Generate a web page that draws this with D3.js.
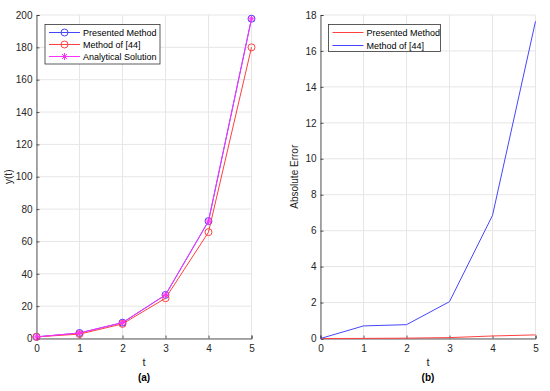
<!DOCTYPE html>
<html>
<head>
<meta charset="utf-8">
<script src="https://cdn.jsdelivr.net/npm/d3@7"></script>
<style>
  body { margin: 0; background: #fff; }
  svg { font-family: "Liberation Sans", Arial, sans-serif; }
</style>
</head>
<body>
<div id="chart"></div>
<script>
// data
const tValues = [0, 1, 2, 3, 4, 5];
const presented = [1, 3.42, 9.8, 26.95, 72.6, 197.7];
const method44 = [1, 2.72, 9.03, 24.9, 65.75, 180.0];
const analytical = [1, 3.42, 9.8, 26.95, 72.6, 197.7];
const errPresented = [0, 0.005, 0.02, 0.05, 0.14, 0.2];
const errMethod44 = [0, 0.7, 0.77, 2.05, 6.85, 17.65];
const yTicksA = [0, 20, 40, 60, 80, 100, 120, 140, 160, 180, 200];
const yTicksB = [0, 2, 4, 6, 8, 10, 12, 14, 16, 18];

const W = 550, H = 391;
const svg = d3.select("#chart").append("svg")
  .attr("width", W).attr("height", H);

const blue = "#4646ff", red = "#ff4040", magenta = "#ff30ff";

function panel(opts) {
  const x = d3.scaleLinear().domain([0, 5]).range(opts.xr);
  const y = d3.scaleLinear().domain(opts.yd).range([338.5, 15]);
  const g = svg.append("g");

  // grid
  g.selectAll(".gx").data(tValues).enter().append("line")
    .attr("x1", d => x(d)).attr("x2", d => x(d))
    .attr("y1", y.range()[0]).attr("y2", y.range()[1])
    .attr("stroke", "#e6e6e6").attr("stroke-width", 1);
  g.selectAll(".gy").data(opts.yticks).enter().append("line")
    .attr("x1", opts.xr[0]).attr("x2", opts.xr[1])
    .attr("y1", d => y(d)).attr("y2", d => y(d))
    .attr("stroke", "#e6e6e6").attr("stroke-width", 1);

  // axes
  const ax = g.append("g").attr("transform", `translate(0,${y.range()[0]})`)
    .call(d3.axisBottom(x).tickValues(tValues).tickSize(-3).tickPadding(6).tickFormat(d3.format("d")));
  const ay = g.append("g").attr("transform", `translate(${opts.xr[0]},0)`)
    .call(d3.axisLeft(y).tickValues(opts.yticks).tickSize(-3).tickPadding(4).tickFormat(d3.format("d")));
  [ax, ay].forEach(a => {
    a.select(".domain").attr("stroke", "#333").attr("stroke-width", 0.8);
    a.selectAll(".tick line").attr("stroke", "#333").attr("stroke-width", 0.8);
    a.selectAll("text").attr("fill", "#262626").attr("font-size", "10px")
      .attr("font-family", "Liberation Sans, Arial, sans-serif");
  });

  // labels
  const cx = (opts.xr[0] + opts.xr[1]) / 2;
  g.append("text").attr("x", cx).attr("y", 366).attr("text-anchor", "middle")
    .attr("font-size", "11px").attr("fill", "#262626").text("t");
  g.append("text").attr("x", cx).attr("y", 381).attr("text-anchor", "middle")
    .attr("font-size", "10px").attr("font-weight", "bold").attr("fill", "#000").text(opts.sub);
  g.append("text")
    .attr("transform", `translate(${opts.ylx},${(y.range()[0] + y.range()[1]) / 2}) rotate(-90)`)
    .attr("text-anchor", "middle").attr("font-size", "10px").attr("fill", "#262626")
    .text(opts.ylabel);

  const line = d3.line().x((d, i) => x(tValues[i])).y(d => y(d));
  opts.series.forEach(s => {
    g.append("path").datum(s.values).attr("d", line)
      .attr("fill", "none").attr("stroke", s.color).attr("stroke-width", 1);
    if (s.marker === "o") {
      g.selectAll(null).data(s.values).enter().append("circle")
        .attr("cx", (d, i) => x(tValues[i])).attr("cy", d => y(d)).attr("r", 3.5)
        .attr("fill", "none").attr("stroke", s.color).attr("stroke-width", 1);
    } else if (s.marker === "*") {
      s.values.forEach((d, i) => star(g, x(tValues[i]), y(d), s.color));
    }
  });

  // legend
  const L = opts.legend;
  g.append("rect").attr("x", L.x).attr("y", L.y).attr("width", L.w).attr("height", L.h)
    .attr("fill", "#fff").attr("stroke", "#333").attr("stroke-width", 0.8);
  opts.series.forEach((s, i) => {
    const yy = L.y + 8 + i * L.dy;
    g.append("line").attr("x1", L.x + 4).attr("x2", L.x + 35).attr("y1", yy).attr("y2", yy)
      .attr("stroke", s.color).attr("stroke-width", 1);
    if (s.marker === "o") {
      g.append("circle").attr("cx", L.x + 19.5).attr("cy", yy).attr("r", 3.5)
        .attr("fill", "none").attr("stroke", s.color);
    } else if (s.marker === "*") {
      star(g, L.x + 19.5, yy, s.color);
    }
    g.append("text").attr("x", L.x + 38).attr("y", yy + 3.5).attr("font-size", "9px")
      .attr("fill", "#000").text(s.name);
  });
}

function star(g, cx, cy, color) {
  const r = 3.5;
  [[r, 0], [0, r], [r * 0.7, r * 0.7], [r * 0.7, -r * 0.7]].forEach(([dx, dy]) => {
    g.append("line").attr("x1", cx - dx).attr("x2", cx + dx)
      .attr("y1", cy - dy).attr("y2", cy + dy)
      .attr("stroke", color).attr("stroke-width", 1);
  });
}

panel({
  xr: [36.5, 251.5], yd: [0, 200], yticks: yTicksA, sub: "(a)",
  ylabel: "y(t)", ylx: 12,
  series: [
    { name: "Presented Method", values: presented, color: blue, marker: "o" },
    { name: "Method of [44]", values: method44, color: red, marker: "o" },
    { name: "Analytical Solution", values: analytical, color: magenta, marker: "*" }
  ],
  legend: { x: 45, y: 24.5, w: 115, h: 39.5, dy: 12 }
});

panel({
  xr: [320.5, 535.5], yd: [0, 18], yticks: yTicksB, sub: "(b)",
  ylabel: "Absolute Error", ylx: 298,
  series: [
    { name: "Presented Method", values: errPresented, color: red, marker: null },
    { name: "Method of [44]", values: errMethod44, color: blue, marker: null }
  ],
  legend: { x: 328.5, y: 24.5, w: 112, h: 27, dy: 13 }
});
</script>
</body>
</html>
